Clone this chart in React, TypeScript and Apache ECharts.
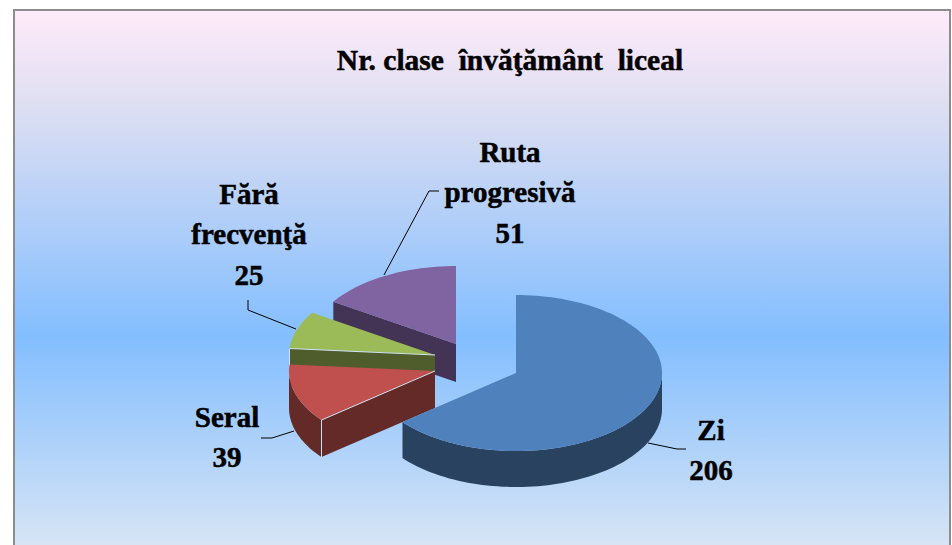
import React, { useEffect, useRef } from "react";
import * as echarts from "echarts";

const titleText = "Nr. clase  învăţământ  liceal";
const categories = ["Zi", "Seral", "Fără\nfrecvenţă", "Ruta\nprogresivă"];
const values = [206, 39, 25, 51];
const topColors = ["#4F81BD", "#C0504D", "#9BBB59", "#8064A2"];
const sideColors = ["#294260", "#632A28", "#4F5D2D", "#433355"];
const apexX = [516, 435, 435, 456];
const apexY = [373, 371, 355, 344];
const depths = [36, 37, 37, 38];
const highlighted = [false, true, true, false];
const labelX = [711, 227, 249, 510];
const labelY = [450, 437, 234, 192];
const leaders = [
  [[648, 443], [677, 449], [686, 449]],
  [[294, 431], [272, 438], [261, 438]],
  [[296, 329], [248, 310], [248, 300]],
  [[384, 275], [429, 191], [439, 191]],
];
const RX = 146;
const RY = 78;
const FONT = "'Liberation Serif', 'Times New Roman', serif";

const total = values.reduce((a, b) => a + b, 0);
const starts: number[] = [];
values.reduce((acc, v, i) => {
  starts[i] = acc;
  return acc + (v / total) * 360;
}, 0);

function rim(i: number, deg: number, dy = 0): number[] {
  const r = (deg * Math.PI) / 180;
  return [apexX[i] + RX * Math.sin(r), apexY[i] - RY * Math.cos(r) + dy];
}
function arc(i: number, a: number, b: number, dy = 0): number[][] {
  const n = Math.max(2, Math.ceil(Math.abs(b - a) / 2));
  const pts: number[][] = [];
  for (let k = 0; k <= n; k++) pts.push(rim(i, a + ((b - a) * k) / n, dy));
  return pts;
}

const renderItem = (_params: any, api: any) => {
  const i = api.value(0) as number;
  const value = api.value(1) as number;
  const a = starts[i];
  const b = a + (value / total) * 360;
  const d = depths[i];
  const apex = [apexX[i], apexY[i]];
  const sin = (x: number) => Math.sin((x * Math.PI) / 180);
  const children: any[] = [];
  const face = (deg: number) => {
    const p = rim(i, deg);
    children.push({
      type: "polygon",
      shape: { points: [apex, p, [p[0], p[1] + d], [apex[0], apex[1] + d]] },
      style: { fill: sideColors[i] },
    });
  };
  if (sin(a) < -1e-6) face(a);
  if (sin(b) > 1e-6) face(b);
  const from = Math.max(a, 90);
  const to = Math.min(b, 270);
  if (to > from) {
    const top = arc(i, from, to);
    const bottom = arc(i, to, from, d);
    children.push({
      type: "polygon",
      shape: { points: [...top, ...bottom] },
      style: { fill: sideColors[i] },
    });
  }
  children.push({
    type: "polygon",
    shape: { points: [apex, ...arc(i, a, b)] },
    style: { fill: topColors[i] },
  });
  if (highlighted[i]) {
    const p = rim(i, a);
    children.push({
      type: "polyline",
      shape: { points: [apex, p, [p[0], p[1] + d]] },
      style: { fill: "none", stroke: "#CFE0F4", lineWidth: 1 },
    });
  }
  children.push({
    type: "polyline",
    shape: { points: leaders[i] },
    style: { fill: "none", stroke: "#000", lineWidth: 1 },
  });
  children.push({
    type: "text",
    x: labelX[i],
    y: labelY[i],
    style: {
      text: `${categories[i]}\n${value}`,
      fill: "#000",
      stroke: "#000",
      lineWidth: 0.5,
      font: `bold 29px ${FONT}`,
      lineHeight: 40.5,
      align: "center",
      verticalAlign: "middle",
    },
  });
  return { type: "group", children };
};

export default function App() {
  const ref = useRef<HTMLDivElement>(null);
  useEffect(() => {
    document.body.style.margin = "0";
    const chart = echarts.init(ref.current!, null, { renderer: "svg" });
    chart.setOption({
      animation: false,
      backgroundColor: "#fff",
      graphic: [
        {
          type: "rect",
          z: -1,
          shape: { x: 14, y: 10, width: 936, height: 545 },
          style: {
            stroke: "#8C8C8C",
            lineWidth: 2,
            fill: {
              type: "linear",
              x: 0,
              y: 0,
              x2: 0,
              y2: 1,
              colorStops: [
                { offset: 0, color: "#FFEBFA" },
                { offset: 0.17, color: "#DFDFF2" },
                { offset: 0.6, color: "#83BEFF" },
                { offset: 0.98, color: "#D6E4F5" },
                { offset: 1, color: "#D6E4F5" },
              ],
            },
          },
        },
      ],
      title: {
        text: titleText,
        left: 505,
        top: 40,
        textAlign: "center",
        textStyle: {
          fontFamily: FONT,
          fontWeight: "bold",
          fontSize: 29.5,
          color: "#000",
          textBorderColor: "#000",
          textBorderWidth: 0.5,
        },
      },
      series: [
        {
          type: "custom",
          coordinateSystem: "none",
          renderItem,
          silent: true,
          // back-to-front drawing order: Ruta, Fără, Seral, Zi
          data: values.map((v, i) => [i, v]).reverse(),
        },
      ],
    });
    return () => chart.dispose();
  }, []);
  return <div ref={ref} style={{ width: 952, height: 545 }} />;
}
